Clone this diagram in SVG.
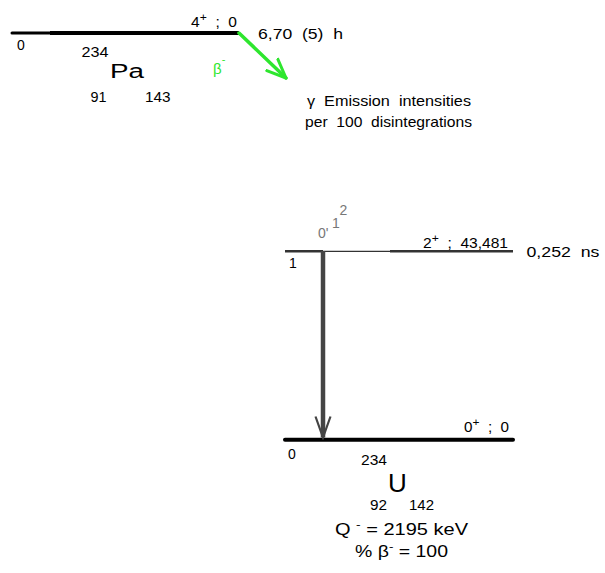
<svg xmlns="http://www.w3.org/2000/svg" width="605" height="573" viewBox="0 0 605 573">
<style>
text{font-family:"Liberation Sans",Arial,sans-serif;fill:#000;white-space:pre}
.s{font-size:14px}
.m{font-size:15px}
.g{fill:#777}
.grn{fill:#2ee62e}
</style>
<defs>
<marker id="ahG" viewBox="0 0 24 24" markerWidth="24" markerHeight="24" refX="20" refY="12" orient="auto" markerUnits="userSpaceOnUse">
<polyline points="1,4 20,12 1,20" fill="none" stroke="#2ee62e" stroke-width="3" stroke-linecap="round" stroke-linejoin="round"/>
</marker>
<marker id="ahD" viewBox="0 0 24 24" markerWidth="24" markerHeight="24" refX="22" refY="12" orient="auto" markerUnits="userSpaceOnUse">
<polyline points="1,4.5 22,12 1,19.5" fill="none" stroke="#444" stroke-width="2.2" stroke-linejoin="miter"/>
</marker>
</defs>
<rect width="605" height="573" fill="#fff"/>
<g id="parent">
<line x1="12" y1="33" x2="50" y2="33" stroke="#000" stroke-width="3" stroke-linecap="round"/>
<line x1="50" y1="33" x2="239" y2="33" stroke="#000" stroke-width="4"/>
<text class="s" x="191" y="27" textLength="46" lengthAdjust="spacingAndGlyphs">4<tspan dy="-6" font-size="11">+</tspan><tspan dy="6">  ;  0</tspan></text>
<text class="s" x="17" y="50">0</text>
<text class="s" x="81.5" y="56.5" textLength="27" lengthAdjust="spacingAndGlyphs">234</text>
<text x="110" y="78" font-size="20" textLength="34" lengthAdjust="spacingAndGlyphs">Pa</text>
<text class="s" x="90.5" y="102" textLength="16" lengthAdjust="spacingAndGlyphs">91</text>
<text class="s" x="145" y="102" textLength="25.5" lengthAdjust="spacingAndGlyphs">143</text>
<text class="m" x="258" y="39" textLength="85" lengthAdjust="spacingAndGlyphs">6,70  (5)  h</text>
</g>
<g id="beta">
<text class="grn" x="213" y="74" font-size="15">β<tspan dy="-11" font-size="11" class="grn">-</tspan></text>
</g>
<g id="note">
<text class="m" x="307" y="106" textLength="164" lengthAdjust="spacingAndGlyphs">γ  Emission  intensities</text>
<text class="m" x="305" y="127" textLength="167" lengthAdjust="spacingAndGlyphs">per  100  disintegrations</text>
</g>
<g id="level1">
<line x1="285" y1="251.3" x2="323" y2="251.3" stroke="#333" stroke-width="2.6"/>
<line x1="323" y1="251.3" x2="390" y2="251.3" stroke="#000" stroke-width="1"/>
<line x1="390" y1="251.3" x2="513" y2="251.3" stroke="#333" stroke-width="2.6"/>
<text class="s" x="423" y="248" textLength="85" lengthAdjust="spacingAndGlyphs">2<tspan dy="-6" font-size="11">+</tspan><tspan dy="6">  ;  43,481</tspan></text>
<text class="m" x="526.5" y="257" textLength="73" lengthAdjust="spacingAndGlyphs">0,252  ns</text>
<text class="s" x="289" y="268">1</text>
<text class="s g" x="318" y="238">0'</text>
<text class="s g" x="332" y="228">1</text>
<text class="g" x="339.5" y="215" font-size="14">2</text>
</g>
<g id="ground">
<line x1="285" y1="439.7" x2="513" y2="439.7" stroke="#000" stroke-width="4" stroke-linecap="round"/>
<text class="s" x="464" y="432" textLength="45" lengthAdjust="spacingAndGlyphs">0<tspan dy="-6" font-size="11">+</tspan><tspan dy="6">  ;  0</tspan></text>
<text class="s" x="288" y="459">0</text>
<text class="s" x="361" y="465" textLength="26" lengthAdjust="spacingAndGlyphs">234</text>
<text x="388" y="492" font-size="26">U</text>
<text class="s" x="370" y="510" textLength="17" lengthAdjust="spacingAndGlyphs">92</text>
<text class="s" x="409" y="510" textLength="25" lengthAdjust="spacingAndGlyphs">142</text>
<text x="335" y="535" font-size="16" textLength="133" lengthAdjust="spacingAndGlyphs">Q <tspan dy="-7" font-size="11">-</tspan><tspan dy="7"> = 2195 keV</tspan></text>
<text x="355" y="557" font-size="16" textLength="93" lengthAdjust="spacingAndGlyphs">% β<tspan dy="-7" font-size="11">-</tspan><tspan dy="7"> = 100</tspan></text>
</g>
<g id="connectors">
<line x1="239" y1="33" x2="286" y2="78" stroke="#2ee62e" stroke-width="3.5" stroke-linecap="round" marker-end="url(#ahG)"/>
<line x1="323" y1="251" x2="323" y2="437.5" stroke="#444" stroke-width="4.5" marker-end="url(#ahD)"/>
</g>
</svg>
